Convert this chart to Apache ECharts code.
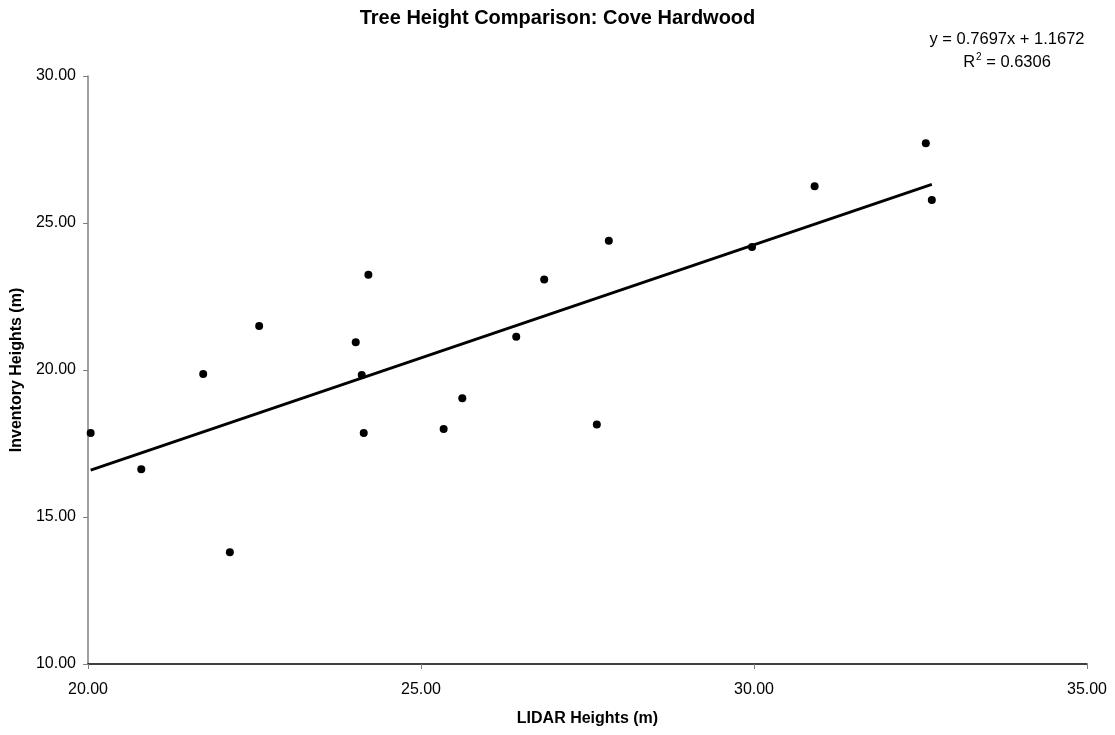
<!DOCTYPE html>
<html>
<head>
<meta charset="utf-8">
<script src="https://cdn.jsdelivr.net/npm/echarts@6/dist/echarts.min.js"></script>
<style>
  html, body { margin: 0; padding: 0; background: #ffffff; }
  #chart { width: 1115px; height: 735px; }
</style>
</head>
<body>
<div id="chart"></div>
<script>
// LIDAR-derived heights (m) for each plot
const lidarHeights = [
  20.04, 20.80, 21.73, 22.57, 22.13, 24.21, 24.02, 24.11, 24.14, 25.34,
  25.62, 26.43, 26.85, 27.64, 27.82, 29.97, 30.91, 32.58, 32.67
];
// Field inventory heights (m) for the same plots
const inventoryHeights = [
  17.86, 16.62, 19.86, 21.50, 13.80, 23.24, 20.94, 19.83, 17.86, 17.99,
  19.04, 21.13, 23.08, 18.15, 24.40, 24.18, 26.25, 27.71, 25.78
];
// Linear trend fitted to the plots
const trendSlope = 0.7697;
const trendIntercept = 1.1672;
const trendR2 = 0.6306;

const xTicks = { min: 20, max: 35, interval: 5 };
const yTicks = { min: 10, max: 30, interval: 5 };

const points = lidarHeights.map((x, i) => [x, inventoryHeights[i]]);
const xLo = Math.min(...lidarHeights);
const xHi = Math.max(...lidarHeights);
const trendPoints = [xLo, xHi].map(x => [x, trendSlope * x + trendIntercept]);

const FONT = 'Liberation Sans, Arial, Helvetica, sans-serif';
const EQ_X = 1007;

const chart = echarts.init(document.getElementById('chart'), null, { renderer: 'canvas' });
chart.setOption({
  backgroundColor: '#ffffff',
  animation: false,
  title: {
    text: 'Tree Height Comparison: Cove Hardwood',
    left: 'center',
    top: 3,
    textStyle: { fontFamily: FONT, fontSize: 20, fontWeight: 'bold', color: '#000' }
  },
  grid: { left: 88, right: 28, top: 76, bottom: 71 },
  xAxis: {
    type: 'value',
    min: xTicks.min, max: xTicks.max, interval: xTicks.interval,
    name: 'LIDAR Heights (m)',
    nameLocation: 'middle',
    nameGap: 47,
    nameTextStyle: { fontFamily: FONT, fontSize: 16, fontWeight: 'bold', color: '#000' },
    axisLine: { show: true, onZero: false, lineStyle: { color: '#000', width: 1.5 } },
    axisTick: { show: true, length: 5, inside: false, lineStyle: { color: '#808080', width: 1 } },
    axisLabel: {
      margin: 18, fontFamily: FONT, fontSize: 16, color: '#000',
      formatter: v => v.toFixed(2)
    },
    splitLine: { show: false }
  },
  yAxis: {
    type: 'value',
    min: yTicks.min, max: yTicks.max, interval: yTicks.interval,
    name: 'Inventory Heights (m)',
    nameLocation: 'middle',
    nameGap: 59,
    nameRotate: 90,
    nameTextStyle: { fontFamily: FONT, fontSize: 16, fontWeight: 'bold', color: '#000' },
    axisLine: { show: true, onZero: false, lineStyle: { color: '#808080', width: 1.5 } },
    axisTick: { show: true, length: 5, inside: false, lineStyle: { color: '#808080', width: 1 } },
    axisLabel: {
      margin: 12, fontFamily: FONT, fontSize: 16, color: '#000',
      formatter: v => v.toFixed(2)
    },
    splitLine: { show: false }
  },
  graphic: [
    {
      type: 'text',
      x: EQ_X,
      y: 39,
      style: {
        text: 'y = ' + trendSlope.toFixed(4) + 'x + ' + trendIntercept.toFixed(4),
        align: 'center',
        verticalAlign: 'middle',
        font: '16.5px ' + FONT,
        fill: '#000'
      }
    },
    {
      type: 'text',
      x: EQ_X,
      y: 62,
      style: {
        text: '{r|R}{s|2}{r| = ' + trendR2.toFixed(4) + '}',
        align: 'center',
        verticalAlign: 'middle',
        font: '16.5px ' + FONT,
        fill: '#000',
        rich: {
          r: { fontSize: 16.5, fontFamily: FONT, color: '#000', lineHeight: 20 },
          s: { fontSize: 10, fontFamily: FONT, color: '#000', verticalAlign: 'top', lineHeight: 12, padding: [0, 0, 0, 1] }
        }
      }
    }
  ],
  series: [
    {
      name: 'Trend',
      type: 'line',
      data: trendPoints,
      showSymbol: false,
      symbol: 'none',
      lineStyle: { color: '#000', width: 2.8 },
      z: 2
    },
    {
      name: 'Plots',
      type: 'scatter',
      data: points,
      symbol: 'circle',
      symbolSize: 8,
      itemStyle: { color: '#000', opacity: 1 },
      z: 3
    }
  ]
});
</script>
</body>
</html>
